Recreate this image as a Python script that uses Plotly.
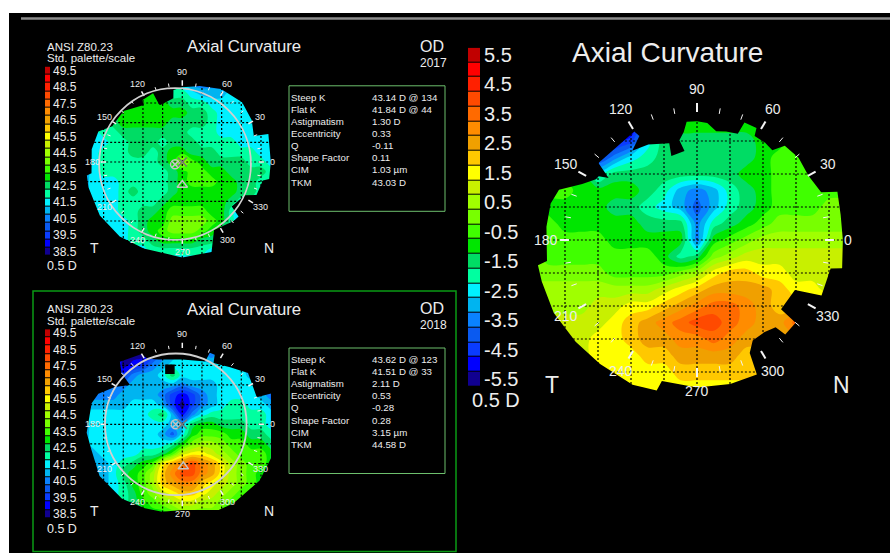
import numpy as np
import plotly.graph_objects as go

W, H = 890, 553
FONT = "Liberation Sans"
TXT = "#EDEDED"

# ---- palette (low to high) ----
PALETTE = ["#100090", "#0000FF", "#0A3CFF", "#0A5AF0", "#0A82FF", "#00B4F0", "#00F0FF", "#00FFA0",
           "#00DC64", "#00E600", "#40FF00", "#78FF00", "#A0FF00", "#C8F000", "#FFFF00", "#FFC800",
           "#F0A000", "#FF8C00", "#FF6A00", "#FF4A00", "#FF2000", "#FF0000", "#C00000"]
DIFF_LEVELS = [-5.5, -5.0, -4.5, -4.0, -3.5, -3.0, -2.5, -2.0, -1.5, -1.0, -0.5, 0.0, 0.5, 1.0, 1.5, 2.0, 2.5, 3.0, 3.5, 4.0, 4.5, 5.0, 5.5]
ABS_LEVELS = [38.5, 39.0, 39.5, 40.0, 40.5, 41.0, 41.5, 42.0, 42.5, 43.0, 43.5, 44.0, 44.5, 45.0, 45.5, 46.0, 46.5, 47.0, 47.5, 48.0, 48.5, 49.0, 49.5]

# ---- sampled map coordinates ----
GRID_X = [-5.0, -4.5, -4.0, -3.5, -3.0, -2.5, -2.0, -1.5, -1.0, -0.5, 0.0, 0.5, 1.0, 1.5, 2.0, 2.5, 3.0, 3.5, 4.0, 4.5]
GRID_Y = [4.0, 3.5, 3.0, 2.5, 2.0, 1.5, 1.0, 0.5, 0.0, -0.5, -1.0, -1.5, -2.0, -2.5, -3.0, -3.5, -4.0, -4.5, -5.0]

MAP_2017 = [
 [42,42,42,42,42,43,43,43,43,42.5,41.5,40.5,40.5,40.5,40.5,41,41,41,41,41],
 [42,42,42,42,43,43,43,43,43,42,42,41.5,41,41,41,41.5,41.5,41.5,41.5,41.5],
 [42,42,42,42.5,43,43,43,43,43,42.5,42.5,42,42,41.5,41.5,41.5,41.5,41.5,41.5,41.5],
 [42,42,42,42.5,43,43,43,43,43,43,43,42.5,42.5,42,41.5,41.5,41.5,41.5,41.5,41.5],
 [42,42,42,42.5,43,43,43,43,43,42.5,42.5,42.5,42.5,42,41.5,41.5,41.5,41.5,41.5,41.5],
 [41.5,41.5,42,42,42.5,42.5,42.5,42.5,42.5,42.5,42.5,42,42,42,41.5,41.5,41.5,41.5,41.5,41.5],
 [41.5,41.5,41.5,42,42,42.5,42.5,42.5,42,42.5,42.5,42.5,42,42,42,42,41.5,41.5,41.5,41.5],
 [41.5,41.5,42,42,42,42.5,42.5,42,42.5,43,43,42.5,42.5,42.5,42,42,42,42,41.5,41.5],
 [41.5,41.5,42,42,42,42,42,42,42.5,43,44.5,43.5,43,42.5,42.5,42.5,42.5,42,42,41.5],
 [41,41.5,42,42,42,42,42,42,42,42.5,43,43.5,43.5,43,43,42.5,42.5,42.5,42.5,42],
 [41,41.5,41.5,41.5,42,42,42,42,42,42.5,43,43.5,43.5,43.5,43,43,42.5,42.5,42,42],
 [41,41.5,41.5,41.5,42,42.5,42,42,42,42.5,43,43,43,43,43,43,42.5,42.5,42,42],
 [41,41.5,41.5,41.5,42,42,42,42,42.5,43,43,43,43,43,43,42.5,42,42,42,42],
 [41.5,41.5,41.5,41.5,42,42,42.5,42.5,43,43.5,43.5,43.5,43.5,43,43,42,41,39.5,39.5,39.5],
 [41.5,41.5,41.5,41.5,41.5,42,42.5,43,43,44,44,44,44,43.5,43,42,41,41,41,41],
 [41.5,41.5,41.5,41.5,41.5,42,42.5,43,43.5,44,44,44,43.5,43,42.5,42,41,41,41,41],
 [41.5,41.5,41.5,41.5,41.5,42,42,42.5,43,43,43,43,42.5,42.5,42,42,41,41,41,41],
 [41.5,41.5,41.5,41.5,41.5,41.5,41.5,42,42,42,42,42,42,41.5,41.5,41.5,41,41,41,41],
 [41.5,41.5,41.5,41.5,41.5,41.5,41.5,41.5,41.5,41.5,41.5,41.5,41.5,41.5,41.5,41.5,41,41,41,41],
]
MAP_2018 = [
 [41,41,41,41,38.5,38.5,38.5,39,40,41,41.5,41.5,40.5,40,41.5,41.5,41.5,41,41,41],
 [41,41,41,41,38.5,38.5,38.5,39.5,40.5,41,41.5,41.5,41,40.5,41.5,41.5,41.5,41,41,41],
 [41,41,41,40,38.5,39,39.5,40.5,41,41.5,41.5,41.5,41.5,41.5,41.5,41.5,41.5,41,41,41],
 [41,41,41,40,39.5,40.5,41,41,41.5,42.5,41.5,41.5,41.5,41.5,41.5,41.5,41.5,41,41,41],
 [40.5,40.5,40.5,40.5,40.5,41,41,41,41,41,40.5,41,41,41,41.5,41.5,41.5,41.5,41,41],
 [40.5,40.5,40.5,40.5,41,41,41,41,40.5,39.5,39,39.5,40.5,41,41.5,41.5,41.5,41.5,41,40.5],
 [41,41,41,41,41,41.5,41.5,41.5,41,39.5,38.5,39.5,40.5,41,41.5,42,42,41.5,41.5,41],
 [41.5,41.5,41.5,41.5,41.5,41.5,41.5,42,42.5,41,39,40.5,41.5,42,42,42,42,42,42,41.5],
 [41,41.5,41.5,41.5,41.5,41.5,41.5,41.5,41.5,41,41,42.5,43,43,42.5,42.5,42.5,42,42,41.5],
 [41,41.5,41.5,41.5,41.5,41.5,41.5,41.5,41,40,41.5,43,43.5,43.5,43.5,43,43,42.5,42.5,42],
 [41,41.5,41.5,41.5,41.5,41.5,41.5,41.5,41.5,42,43,44,44.5,44.5,44,43.5,43.5,43,43,42.5],
 [41,41,41.5,41.5,41.5,41.5,42,42,42.5,43.5,45,45.5,45.5,45,44.5,44,43.5,43.5,43.5,43],
 [40.5,41,41,41.5,42,42.5,43,43.5,45.5,46.5,47,48,47,46.5,45.5,44.5,44,43.5,43.5,43],
 [40.5,40.5,41,41.5,42.5,43,43.5,44.5,46,47,48,48,47,46.5,45.5,44.5,44,43.5,43,43],
 [40.5,40.5,41,41.5,42,43,43.5,44.5,46,46.5,47,47,46,45.5,45,44.5,44,43.5,43,43],
 [40.5,40.5,41,41.5,42,42.5,43.5,44,45,45.5,46,46,45.5,45,44.5,44,43.5,43,43,43],
 [40.5,40.5,41,41.5,42,42.5,43,43.5,44,44.5,45,45,44.5,44.5,44,43.5,43,43,43,43],
 [40.5,40.5,41,41.5,42,42.5,42.5,43,43,43.5,44,44,44,44,43.5,43,43,43,43,43],
 [40.5,40.5,41,41.5,42,42.5,42.5,43,43,43.5,44,44,44,44,43.5,43,43,43,43,43],
]
MAP_DIFF = [
 [-1,-1,-1,-1,-1,-5.5,-5.5,-3,-1,-1,-1,-1,-1,-1,-1,-1,-1,-1,-1,-1],
 [-1,-1,-1,-1,-3,-5.5,-5.5,-3,-1.5,-1,-1,-1,-1,-1,-1,-1,-1,-1,-1,-1],
 [-1,-1,-1,-3,-5,-5,-4.5,-2.5,-1.5,-1.5,-1.5,-1.5,-1.5,-1.5,-1,-1,-0.5,-0.5,-0.5,-0.5],
 [-1,-1,-1.5,-5,-4.5,-3.5,-2.5,-2,-1.5,-1.5,-1.5,-1.5,-1.5,-1.5,-1,-0.5,-0.5,-0.5,-0.5,-0.5],
 [-1,-1,-1,-1,-2.5,-1.5,-1.5,-1.5,-1.5,-1.5,-1.5,-1.5,-1.5,-1,-1,-0.5,-0.5,-0.5,-0.5,-0.5],
 [-0.5,-0.5,-0.5,-1,-1,-1,-1,-1.5,-2,-3,-3.5,-3,-2,-1.5,-1,-0.5,-0.5,-0.5,-0.5,-0.5],
 [-0.5,-1,-1,-1,-1,-1.5,-1.5,-2,-2.5,-3,-4,-3,-2,-1.5,-1,-0.5,-0.5,-0.5,0,0],
 [-0.5,-0.5,-1,-1,-1,-1,-1,-1.5,-1.5,-1.5,-3.5,-2,-1.5,-1,-0.5,0,0,0,0,0],
 [-0.5,-0.5,-0.5,-0.5,-0.5,-1,-1,-1,-1,-1,-3.5,-1,-0.5,0,0.5,0.5,0.5,0.5,0.5,0.5],
 [0,-0.5,-0.5,-0.5,-0.5,-0.5,-0.5,-0.5,-1,-2,-1.5,0,0.5,1,1,1,1,1,1,1],
 [0,0,0,0,0,-0.5,-0.5,-0.5,-0.5,0,0.5,1.5,2,2,1.5,1.5,1,1,1,1],
 [0.5,0.5,0.5,0.5,0.5,0.5,0.5,0.5,1,1.5,2,2.5,2.5,2.5,2.5,2,1.5,1.5,1,1],
 [0.5,0.5,0.5,0.5,1,1,1.5,1.5,2,2.5,3,3.5,3.5,3,2.5,2,2,2,2,2],
 [1,1,1,1,1,1.5,2,2.5,3,3.5,4,4,3.5,3,2.5,2.5,3.5,4,4,4],
 [1,1,1,1,1.5,1.5,2,2.5,2.5,3,3,3.5,3,2.5,2.5,2.5,2.5,2.5,2.5,2.5],
 [1,1,1,1,1.5,1.5,1.5,2,2,2.5,2.5,2.5,2.5,2,2,2,2,2,2,2],
 [1,1,1,1,1,1.5,1.5,1.5,1.5,2,2,2,2,2,2,2,2,2,2,2],
 [1,1,1,1,1,1.5,1.5,1.5,1.5,1.5,1.5,1.5,1.5,1.5,1.5,1.5,1.5,1.5,1.5,1.5],
 [1,1,1,1,1,1.5,1.5,1.5,1.5,1.5,1.5,1.5,1.5,1.5,1.5,1.5,1.5,1.5,1.5,1.5],
]

# ---- outline of each measured area: angle (deg), radius (grid units) ----
EDGE_2017_A = [0, 18, 20, 31, 45, 62, 77, 90, 97, 98, 111, 112, 113, 123, 124, 139, 153, 160, 172, 187, 188, 195, 213, 230, 246, 270, 288, 295, 311, 316, 318, 332, 336, 347, 349, 360]
EDGE_2017_R = [4.5, 4.6, 3.87, 4.12, 4.3, 4.2, 3.97, 3.8, 3.69, 3.27, 3.1, 3.15, 3.8, 3.75, 3.5, 3.95, 4.0, 4.54, 4.65, 4.65, 4.9, 4.94, 5.0, 4.95, 4.82, 4.85, 4.81, 3.82, 3.98, 3.98, 3.38, 3.6, 4.13, 4.2, 4.5, 4.5]
EDGE_2018_A = [0, 19, 20, 38, 50, 63, 65, 69, 70, 90, 100, 110, 118, 120, 135, 140, 143, 151, 160, 167, 185, 196, 212, 231, 246, 257, 270, 293, 303, 324, 342, 354, 360]
EDGE_2018_R = [4.7, 4.88, 4.03, 4.24, 3.78, 3.5, 3.9, 3.9, 3.4, 3.3, 3.35, 3.5, 3.78, 4.13, 4.49, 4.03, 3.33, 3.92, 4.54, 4.73, 4.88, 4.8, 4.96, 4.87, 4.67, 4.56, 4.36, 4.73, 4.78, 4.86, 4.86, 4.74, 4.7]
EDGE_DIFF_A = [0, 10, 19, 21, 30, 39, 47, 50, 55, 61, 62, 68, 69, 75, 80, 85, 90, 95, 97, 100, 98, 107, 106, 117, 126, 119, 120, 142, 145, 147, 149, 154, 160, 166, 175, 188, 189, 195, 207, 220, 232, 246, 255, 256, 270, 283, 294, 295, 299, 306, 312, 313, 320, 320.5, 333, 336, 348, 349, 360]
EDGE_DIFF_R = [4.42, 4.42, 4.5, 4.03, 3.9, 3.96, 3.9, 3.55, 3.6, 3.6, 3.84, 3.84, 3.45, 3.4, 3.35, 3.56, 3.6, 3.6, 3.3, 3.07, 2.72, 2.66, 3.05, 3.25, 3.34, 3.6, 3.8, 3.79, 3.27, 3.55, 3.57, 3.87, 4.45, 4.57, 4.58, 4.59, 4.88, 4.87, 4.87, 4.8, 4.77, 4.8, 4.72, 4.4, 4.47, 4.48, 4.46, 3.78, 3.48, 3.46, 3.56, 3.92, 3.9, 3.3, 3.33, 4.13, 4.14, 4.48, 4.42]

# ---- ticks, labels, statistics ----
TICK_ANGLES = list(range(0, 360, 10))
LABEL_ANGLES = [0, 30, 60, 90, 120, 150, 180, 210, 240, 270, 300, 330]
GRID_LINES = [-4, -3, -2, -1, 0, 1, 2, 3, 4]
STAT_NAMES = ["Steep K", "Flat K", "Astigmatism", "Eccentricity", "Q", "Shape Factor", "CIM", "TKM"]
STATS_2017 = ["43.14 D @ 134", "41.84 D @ 44", "1.30 D", "0.33", "-0.11", "0.11", "1.03 µm", "43.03 D"]
STATS_2018 = ["43.62 D @ 123", "41.51 D @ 33", "2.11 D", "0.53", "-0.28", "0.28", "3.15 µm", "44.58 D"]

n = len(PALETTE)
scale = [[i / (n - 1), c] for i, c in enumerate(PALETTE)]
fig = go.Figure()
layout = dict()
ann, shapes = [], []
R = 5.2


def px_x(p):
    return p / W


def px_y(p):
    return 1 - p / H


def text(x, y, s, size, xref="paper", yref="paper", anchor="left", color=TXT):
    ann.append(dict(x=x, y=y, xref=xref, yref=yref, text=s, showarrow=False, xanchor=anchor, yanchor="middle",
                    font=dict(family=FONT, size=size, color=color), borderpad=0, borderwidth=0))


def set_axes(idx, xdom, ydom, xr, yr):
    s = "" if idx == 1 else str(idx)
    layout["xaxis" + s] = dict(domain=xdom, range=xr, visible=False, fixedrange=True)
    layout["yaxis" + s] = dict(domain=ydom, range=yr, visible=False, fixedrange=True)
    return ("x" + s, "y" + s)


def add_map(idx, cx, cy, unit, z, levels, edge_a, edge_r, tick_font, line_w, marks):
    xr, yr = set_axes(idx, [px_x(cx - R * unit), px_x(cx + R * unit)], [px_y(cy + R * unit), px_y(cy - R * unit)], [-R, R], [-R, R])
    step = levels[1] - levels[0]
    fig.add_trace(go.Contour(x=GRID_X, y=GRID_Y, z=z, xaxis=xr, yaxis=yr, colorscale=scale, showscale=False,
                             autocontour=False, line=dict(width=0), hoverinfo="skip",
                             contours=dict(coloring="fill", start=levels[0] + step / 2, end=levels[-1] - step / 2, size=step)))
    a = np.radians(edge_a)
    ex, ey = np.array(edge_r) * np.cos(a), np.array(edge_r) * np.sin(a)
    o = R + 0.5
    mx = [o] + list(ex) + [o, o, -o, -o, o, o]
    my = [ey[0]] + list(ey) + [ey[-1], -o, -o, o, o, ey[0]]
    fig.add_trace(go.Scatter(x=mx, y=my, xaxis=xr, yaxis=yr, mode="lines", fill="toself", fillcolor="black",
                             line=dict(width=0, color="black"), hoverinfo="skip"))
    gx, gy = [], []
    for g in GRID_LINES:
        gx += [g, g, None, -o, o, None]
        gy += [-o, o, None, g, g, None]
    fig.add_trace(go.Scatter(x=gx, y=gy, xaxis=xr, yaxis=yr, mode="lines", hoverinfo="skip",
                             line=dict(color="black", width=1.2, dash="2px,2px")))
    for wide in (False, True):
        tx, ty = [], []
        for t in TICK_ANGLES:
            if (t % 30 == 0) != wide:
                continue
            r0, r1 = (3.88, 4.15) if wide else (3.88, 4.05)
            c, s = np.cos(np.radians(t)), np.sin(np.radians(t))
            tx += [r0 * c, r1 * c, None]
            ty += [r0 * s, r1 * s, None]
        fig.add_trace(go.Scatter(x=tx, y=ty, xaxis=xr, yaxis=yr, mode="lines", hoverinfo="skip",
                                 line=dict(color="#F4F4F4", width=line_w if wide else 1)))
    for t in LABEL_ANGLES:
        c, s = np.cos(np.radians(t)), np.sin(np.radians(t))
        text(4.58 * c, 4.58 * s, str(t), tick_font, xref=xr, yref=yr, anchor="center")
    for m in marks:
        fig.add_trace(go.Scatter(x=[m[0]], y=[m[1]], xaxis=xr, yaxis=yr, mode="markers", hoverinfo="skip",
                                 marker=dict(symbol=m[2], size=m[3], color=m[4], line=dict(color=m[4], width=1.5))))
    return xr, yr


def add_palette(idx, left, right, first_y, spacing, levels, label_x, font):
    top = first_y - spacing / 2
    bot = first_y + spacing * (n - 0.5)
    xr, yr = set_axes(idx, [px_x(left), px_x(right)], [px_y(bot), px_y(top)], [-0.5, 0.5], [n - 0.5, -0.5])
    fig.add_trace(go.Heatmap(x=[0], y=list(range(n)), z=[[v] for v in levels], xaxis=xr, yaxis=yr, colorscale=scale,
                             zmin=min(levels), zmax=max(levels), showscale=False, ygap=1, hoverinfo="skip"))
    for i in range(0, n, 2):
        ann.append(dict(x=px_x(label_x), y=i, xref="paper", yref=yr, text=f"{levels[i]:.1f}", showarrow=False,
                        xanchor="left", yanchor="middle", font=dict(family=FONT, size=font, color=TXT)))


def stats_block(top_y, values):
    for i, (nm, v) in enumerate(zip(STAT_NAMES, values)):
        y = px_y(top_y + 12.1 * i)
        text(px_x(291), y, nm, 9.7)
        text(px_x(372), y, v, 9.7)
    shapes.append(dict(type="rect", xref="paper", yref="paper", x0=px_x(289), x1=px_x(445),
                       y0=px_y(top_y - 11.5), y1=px_y(top_y + 114), line=dict(color="#6DBF6D", width=1), fillcolor="rgba(0,0,0,0)"))


# page
shapes.append(dict(type="rect", xref="paper", yref="paper", x0=px_x(9), x1=1.01, y0=-0.01, y1=px_y(13),
                   fillcolor="black", line=dict(width=0), layer="below"))
shapes.append(dict(type="line", xref="paper", yref="paper", x0=px_x(21), x1=1, y0=px_y(18.5), y1=px_y(18.5),
                   line=dict(color="#8C8C8C", width=2.5)))
shapes.append(dict(type="rect", xref="paper", yref="paper", x0=px_x(33), x1=px_x(456), y0=px_y(551.5), y1=px_y(291),
                   line=dict(color="#0A9A14", width=1.5), fillcolor="rgba(0,0,0,0)"))

GREY = "#C4C4C4"
x1, y1 = add_map(1, 182.3, 162, 19.67, MAP_2017, ABS_LEVELS, EDGE_2017_A, EDGE_2017_R, 9, 1.5,
                 [(-0.37, -0.12, "circle-open", 9, GREY), (-0.37, -0.12, "x-thin", 6, GREY), (0, 0, "x-thin", 9, "#777777"),
                  (0, -1.17, "triangle-up-open", 9, GREY)])
x2, y2 = add_map(2, 182.3, 424.3, 19.67, MAP_2018, ABS_LEVELS, EDGE_2018_A, EDGE_2018_R, 9, 1.5,
                 [(-0.63, 2.8, "square", 8, "black"), (-0.34, 0, "circle-open", 9, GREY), (-0.34, 0, "x-thin", 6, GREY),
                  (0, 0, "x-thin", 9, "#777777"), (0.05, -2.15, "triangle-up-open", 9, GREY)])
x3, y3 = add_map(3, 697, 240, 33, MAP_DIFF, DIFF_LEVELS, EDGE_DIFF_A, EDGE_DIFF_R, 14, 2, [])

add_palette(4, 45, 50, 70.7, 8.23, ABS_LEVELS[::-1], 51, 12)
add_palette(5, 45, 50, 333.3, 8.21, ABS_LEVELS[::-1], 51, 12)
add_palette(6, 468, 480, 55, 14.73, DIFF_LEVELS[::-1], 482, 20)

# rings of the small maps
shapes.append(dict(type="circle", xref=x1, yref=y1, x0=-0.37 - 3.86, x1=-0.37 + 3.86, y0=-0.1 - 3.86, y1=-0.1 + 3.86, line=dict(color="#D0D0D0", width=1.8)))
shapes.append(dict(type="circle", xref=x2, yref=y2, x0=-0.33 - 3.6, x1=-0.33 + 3.6, y0=-3.6, y1=3.6, line=dict(color="#D0D0D0", width=1.8)))

# headers
for (hy, ty, oy, yr_lab, stats, sy, t_y, zero_y) in [
    (47, 47, 47, "2017", STATS_2017, 97.3, 248, 266),
    (309, 309, 308, "2018", STATS_2018, 359.5, 511, 529),
]:
    text(px_x(47), px_y(hy), "ANSI Z80.23", 11.5)
    text(px_x(47), px_y(hy + 11.5), "Std. palette/scale", 11.5)
    text(px_x(244), px_y(ty), "Axial Curvature", 16.7, anchor="center")
    text(px_x(432), px_y(oy), "OD", 16, anchor="center")
    text(px_x(433), px_y(oy + 16.5), yr_lab, 12, anchor="center")
    text(px_x(94), px_y(t_y), "T", 14, anchor="center")
    text(px_x(269), px_y(t_y), "N", 14, anchor="center")
    text(px_x(47), px_y(zero_y), "0.5 D", 12.5)
    stats_block(sy, stats)

text(px_x(667), px_y(53), "Axial Curvature", 28, anchor="center")
text(px_x(552), px_y(385), "T", 23, anchor="center")
text(px_x(841), px_y(385), "N", 23, anchor="center")
text(px_x(472), px_y(400), "0.5 D", 20)

fig.update_layout(width=W, height=H, margin=dict(l=0, r=0, t=0, b=0), paper_bgcolor="white", plot_bgcolor="rgba(0,0,0,0)",
                  showlegend=False, annotations=ann, shapes=shapes, **layout)
fig.write_html("out.html", config=dict(displayModeBar=False),
               post_script="document.body.style.margin='0';document.body.style.overflow='hidden';")
